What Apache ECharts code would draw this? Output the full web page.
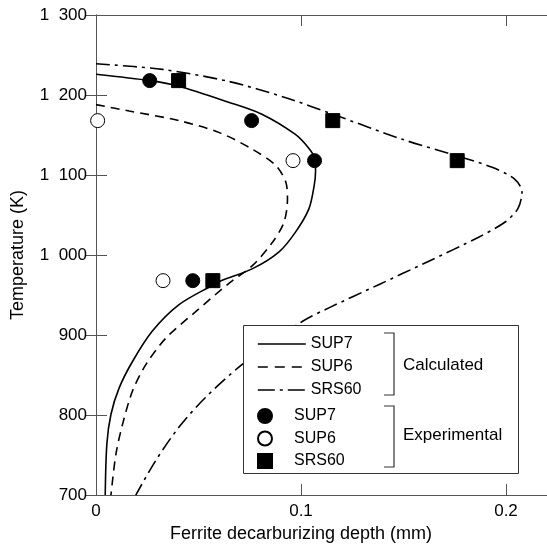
<!DOCTYPE html>
<html>
<head>
<meta charset="utf-8">
<script src="https://cdn.jsdelivr.net/npm/echarts@6/dist/echarts.min.js"></script>
<style>
	html, body { margin: 0; padding: 0; background: #fff; }
	#chart { width: 547px; height: 548px; }
</style>
</head>
<body>
<div id="chart"></div>
<script>
// x = ferrite decarburizing depth (mm), y = temperature (K)
const yTicks = [700, 800, 900, 1000, 1100, 1200, 1300]
const xTicks = [0, 0.1, 0.2]

// calculated curves
const calcSUP7 = [
	[0, 1226], [0.0264, 1218], [0.0405, 1211], [0.0647, 1191], [0.0809, 1176],
	[0.0971, 1151], [0.1036, 1134], [0.1068, 1120], [0.1071, 1105], [0.1065, 1088],
	[0.1039, 1058], [0.0974, 1029], [0.0893, 1004], [0.0764, 983], [0.0602, 967],
	[0.0566, 962], [0.0405, 938], [0.0275, 905], [0.0178, 867], [0.0113, 834],
	[0.0073, 801], [0.0053, 764], [0.0045, 700],
]
const calcSUP6 = [
	[0, 1188], [0.0162, 1180], [0.0405, 1168], [0.0602, 1153], [0.0764, 1132],
	[0.0877, 1112], [0.0926, 1091], [0.0934, 1070], [0.0917, 1041], [0.0861, 1016],
	[0.0764, 987], [0.0650, 965], [0.0485, 929], [0.0340, 896], [0.0243, 863],
	[0.0178, 830], [0.0130, 789], [0.0097, 751], [0.0073, 700],
]
const calcSRS60 = [
	[0, 1239], [0.0324, 1232], [0.0647, 1217], [0.0922, 1197], [0.1155, 1176],
	[0.1490, 1145], [0.1735, 1126], [0.1929, 1110], [0.2042, 1095],
	[0.2078, 1079], [0.2058, 1058], [0.1994, 1041], [0.1864, 1022], [0.1621, 992],
	[0.1379, 963], [0.1136, 934], [0.1006, 917], [0.0712, 863], [0.0534, 822],
	[0.0405, 785], [0.0291, 743], [0.0194, 700],
]

// experimental points
const expSUP7 = [[0.0262, 1218], [0.0759, 1168], [0.1066, 1118], [0.0472, 968]]
const expSUP6 = [[0.0008, 1168], [0.0961, 1118], [0.0327, 968]]
const expSRS60 = [[0.0403, 1218], [0.1155, 1168], [0.1762, 1118], [0.0570, 968]]

const font = 'Liberation Sans, Arial, sans-serif'
const axisColor = '#555'
const squareIcon = 'path://M0,0H10V10H0Z'
const clear = 'rgba(0,0,0,0)'
const dashSUP6 = [9, 6]
const dashSRS60 = [14, 5, 3, 5]

function yLabel(v) {
	// "1 300" style with a wide gap
	return v >= 1000 ? '1  ' + String(v - 1000).padStart(3, '0') : String(v)
}

const lineSeries = (name, data, dash) => ({
	name: name,
	type: 'line',
	data: data,
	symbol: 'none',
	smooth: 0.3,
	z: 2,
	color: '#000',
	lineStyle: { color: '#000', width: 1.6, type: dash },
})

const scatterSeries = (name, data, symbol, fill) => ({
	name: name,
	type: 'scatter',
	data: data,
	symbol: symbol,
	symbolSize: 14,
	z: 2,
	itemStyle: { color: fill, borderColor: '#000', borderWidth: 1, opacity: 1 },
})

const option = {
	animation: false,
	backgroundColor: '#fff',
	textStyle: { fontFamily: font },
	grid: { left: 96, top: 15, width: 453, height: 483 },
	xAxis: [
		{
			type: 'value',
			min: 0,
			max: 0.22,
			interval: 0.1,
			position: 'bottom',
			name: 'Ferrite decarburizing depth (mm)',
			nameLocation: 'middle',
			nameGap: 29,
			nameTextStyle: { fontSize: 18, color: '#000', fontFamily: font, padding: [0, 41, 0, 0] },
			axisLine: { lineStyle: { color: axisColor, width: 1 } },
			axisTick: { inside: true, length: 11, lineStyle: { color: axisColor } },
			axisLabel: {
				margin: 8,
				fontSize: 17,
				color: '#000',
				fontFamily: font,
				showMaxLabel: false,
				formatter: (v) => (xTicks.includes(v) ? String(v) : ''),
			},
			splitLine: { show: false },
		},
		{
			type: 'value',
			min: 0,
			max: 0.22,
			interval: 0.1,
			position: 'top',
			axisLine: { lineStyle: { color: axisColor, width: 1 } },
			axisTick: { inside: true, length: 11, lineStyle: { color: axisColor } },
			axisLabel: { show: false },
			splitLine: { show: false },
		},
	],
	yAxis: [
		{
			type: 'value',
			min: yTicks[0],
			max: yTicks[yTicks.length - 1],
			interval: 100,
			position: 'left',
			name: 'Temperature (K)',
			nameLocation: 'middle',
			nameGap: 69,
			nameTextStyle: { fontSize: 18, color: '#000', fontFamily: font },
			axisLine: { lineStyle: { color: axisColor, width: 1 } },
			axisTick: { inside: true, length: 11, lineStyle: { color: axisColor } },
			axisLabel: { margin: 9, fontSize: 17, color: '#000', fontFamily: font, formatter: yLabel },
			splitLine: { show: false },
		},
		{
			type: 'value',
			min: yTicks[0],
			max: yTicks[yTicks.length - 1],
			interval: 100,
			position: 'right',
			axisLine: { lineStyle: { color: axisColor, width: 1 } },
			axisTick: { inside: true, length: 11, lineStyle: { color: axisColor } },
			axisLabel: { show: false },
			splitLine: { show: false },
		},
	],
	legend: [
		{
			orient: 'vertical',
			left: 257,
			top: 336,
			padding: 0,
			itemWidth: 48,
			itemHeight: 14,
			itemGap: 7,
			selectedMode: false,
			// hide the marker drawn in the middle of line icons
			itemStyle: { color: clear, borderColor: clear, borderWidth: 0 },
			lineStyle: { width: 1.6, color: '#000' },
			textStyle: { fontSize: 16, color: '#000', fontFamily: font, lineHeight: 14 },
			formatter: (name) => name.split(' ')[0],
			data: [
				{ name: 'SUP7 calc' },
				{ name: 'SUP6 calc', lineStyle: { type: [10, 7] } },
				{ name: 'SRS60 calc', lineStyle: { type: [17, 5, 3, 5] } },
			],
		},
		{
			orient: 'vertical',
			left: 257,
			top: 408,
			padding: 0,
			itemWidth: 48,
			itemHeight: 14,
			itemGap: 6.5,
			selectedMode: false,
			textStyle: { fontSize: 16, color: '#000', fontFamily: font, lineHeight: 14 },
			formatter: (name) => name.split(' ')[0],
			data: [
				{ name: 'SUP7 exp', icon: 'circle' },
				{ name: 'SUP6 exp', icon: 'circle' },
				{ name: 'SRS60 exp', icon: squareIcon },
			],
		},
	],
	graphic: [
		{
			type: 'rect',
			z: 3,
			shape: { x: 243.5, y: 325.5, width: 275, height: 148 },
			style: { fill: '#fff', stroke: '#333', lineWidth: 1 },
		},
		{
			type: 'polyline',
			z: 5,
			shape: { points: [[384, 333], [394, 333], [394, 395], [384, 395]] },
			style: { fill: null, stroke: '#333', lineWidth: 1.2 },
		},
		{
			type: 'polyline',
			z: 5,
			shape: { points: [[384, 406], [394, 406], [394, 467], [384, 467]] },
			style: { fill: null, stroke: '#333', lineWidth: 1.2 },
		},
		{
			type: 'text',
			z: 5,
			left: 403,
			top: 357,
			style: { text: 'Calculated', fill: '#000', font: '17px ' + font },
		},
		{
			type: 'text',
			z: 5,
			left: 403,
			top: 427,
			style: { text: 'Experimental', fill: '#000', font: '17px ' + font },
		},
	],
	series: [
		lineSeries('SUP7 calc', calcSUP7, 'solid'),
		lineSeries('SUP6 calc', calcSUP6, dashSUP6),
		lineSeries('SRS60 calc', calcSRS60, dashSRS60),
		scatterSeries('SUP7 exp', expSUP7, 'circle', '#000'),
		scatterSeries('SUP6 exp', expSUP6, 'circle', '#fff'),
		scatterSeries('SRS60 exp', expSRS60, 'rect', '#000'),
	],
}

const myChart = echarts.init(document.getElementById('chart'), null, { renderer: 'canvas' })
myChart.setOption(option)
</script>
</body>
</html>
